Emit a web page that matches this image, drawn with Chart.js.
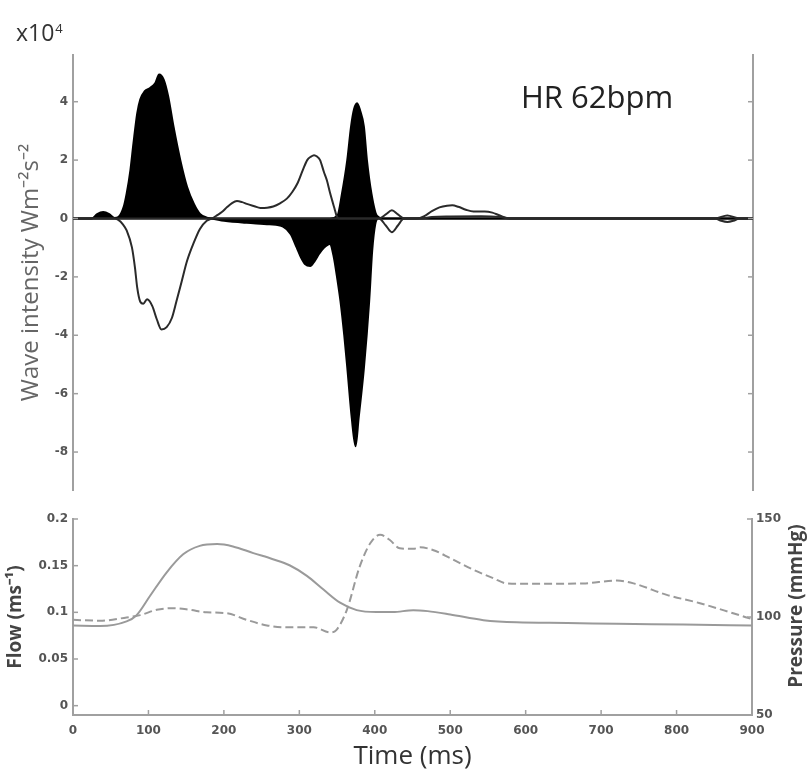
<!DOCTYPE html>
<html><head><meta charset="utf-8">
<script src="https://cdn.jsdelivr.net/npm/chart.js@4.4.1/dist/chart.umd.min.js"></script>
<style>
html,body{margin:0;padding:0;background:#fff;}
#wrap{position:relative;width:811px;height:774px;background:#fff;}
canvas{position:absolute;left:0;top:0;}
</style></head><body>
<div id="wrap"><canvas id="waveCanvas" width="811" height="774"></canvas><canvas id="flowCanvas" width="811" height="774"></canvas></div>
<script>
// ---------- Tick labels ----------
const waveTicks = [-8, -6, -4, -2, 0, 2, 4];
const timeTicks = [0, 100, 200, 300, 400, 500, 600, 700, 800, 900];
const flowTicks = [0, 0.05, 0.1, 0.15, 0.2];
const pressureTicks = [50, 100, 150];

// ---------- Wave intensity (x10^4 W m^-2 s^-2) ----------
// forward (filled, positive)
const fwdTime  = [0, 25, 32, 40, 48, 55, 60, 67, 71, 76, 80, 85, 89, 95, 102, 109, 114, 120, 126, 133, 142, 151, 160, 168, 177, 185, 340, 350, 356, 363, 368, 372, 376, 380, 385, 389, 395, 402, 410, 900];
const fwdValue = [0, 0, 0.15, 0.22, 0.15, 0.02, 0.05, 0.39, 0.85, 1.66, 2.57, 3.6, 4.07, 4.36, 4.47, 4.64, 4.93, 4.76, 4.18, 3.15, 2.0, 1.08, 0.5, 0.16, 0.03, 0, 0, 0.1, 0.85, 2.0, 3.15, 3.75, 3.95, 3.7, 3.15, 2.0, 0.85, 0.1, 0, 0];
// backward (filled, negative)
const bwdTime  = [0, 180, 200, 230, 260, 278, 288, 296, 302, 307, 314, 320, 326, 332, 340, 345, 350, 354, 359, 363, 369, 374, 378, 385, 392, 396, 400, 404, 900];
const bwdValue = [0, 0, -0.08, -0.15, -0.2, -0.28, -0.53, -0.99, -1.35, -1.56, -1.63, -1.45, -1.2, -1.0, -0.87, -1.3, -2.1, -2.83, -4.0, -5.1, -6.85, -7.8, -6.85, -5.13, -2.83, -1.1, -0.2, 0, 0];
// open trace A
const openATime  = [0, 55, 60, 66, 71, 78, 82, 85, 89, 93, 98, 105, 111, 117, 124, 131, 137, 144, 151, 160, 168, 177, 184, 190, 197, 204, 210, 217, 224, 230, 240, 248, 257, 265, 274, 283, 290, 297, 304, 310, 315, 319, 323, 327, 332, 336, 340, 343, 346, 349, 352, 405, 414, 422, 430, 438, 455, 465, 475, 485, 495, 502, 510, 520, 530, 545, 555, 565, 578, 850, 866, 882, 900];
const openAValue = [0, 0, -0.05, -0.2, -0.41, -0.99, -1.68, -2.37, -2.85, -2.92, -2.77, -3.0, -3.46, -3.8, -3.72, -3.4, -2.83, -2.14, -1.45, -0.82, -0.36, -0.08, 0, 0.1, 0.22, 0.39, 0.52, 0.6, 0.56, 0.5, 0.42, 0.36, 0.37, 0.41, 0.52, 0.68, 0.9, 1.2, 1.65, 2.0, 2.12, 2.17, 2.12, 2.0, 1.6, 1.31, 0.9, 0.62, 0.35, 0.08, 0, 0, 0.14, 0.28, 0.14, 0, 0, 0.08, 0.25, 0.38, 0.44, 0.45, 0.4, 0.3, 0.24, 0.24, 0.2, 0.1, 0, 0, 0.1, 0, 0];
// open trace B
const openBTime  = [0, 405, 414, 422, 430, 438, 460, 475, 500, 540, 565, 578, 850, 858, 866, 874, 882, 900];
const openBValue = [0, 0, -0.24, -0.47, -0.24, 0, 0, 0.05, 0.07, 0.08, 0.05, 0, 0, -0.08, -0.12, -0.08, 0, 0];

// ---------- Flow (m/s) and pressure (mmHg) ----------
const flowTime  = [0, 36, 71, 89, 111, 133, 155, 177, 204, 230, 257, 283, 319, 341, 349, 363, 380, 394, 407, 420, 433, 451, 460, 477, 500, 531, 557, 575, 610, 676, 721, 743, 787, 831, 875, 900];
const flowValue = [0.092, 0.091, 0.0945, 0.097, 0.1027, 0.1045, 0.1027, 0.100, 0.099, 0.092, 0.086, 0.084, 0.084, 0.0784, 0.081, 0.1027, 0.149, 0.174, 0.183, 0.1775, 0.1686, 0.168, 0.1697, 0.1668, 0.158, 0.1455, 0.1366, 0.131, 0.1305, 0.131, 0.134, 0.131, 0.1187, 0.1098, 0.099, 0.0927];
const pressureTime  = [0, 36, 71, 84, 102, 124, 146, 168, 191, 212, 239, 265, 287, 310, 332, 354, 376, 402, 424, 451, 470, 500, 544, 588, 655, 721, 809, 900];
const pressureValue = [95.6, 95.4, 97.8, 100.8, 110.7, 122.7, 132, 136.3, 137.2, 136, 132.6, 129.5, 126.4, 121, 114, 107.3, 103.5, 102.5, 102.5, 103.5, 103.0, 101.3, 98.4, 97.3, 97, 96.5, 96.2, 95.6];

// ---------- helpers ----------
const pairs = (xs, ys) => xs.map((x, i) => ({x: x, y: ys[i]}));
const axisGray = '#a0a0a0';
const tickFont = {family: 'DejaVu Sans', size: 12, weight: 'bold'};
const fixWidth = w => s => { s.width = w; };
const fixHeight = h => s => { s.height = h; };
const setTicks = vals => s => { s.ticks = vals.map(v => ({value: v})); };

const inwardTicks = {
  id: 'inwardTicks',
  afterDraw(chart, args, opts) {
    const ctx = chart.ctx;
    ctx.save();
    ctx.strokeStyle = axisGray;
    ctx.lineWidth = 1.5;
    (opts.ids || []).forEach(id => {
      const s = chart.scales[id];
      if (!s) return;
      const len = 5;
      s.ticks.forEach(t => {
        const p = s.getPixelForValue(t.value);
        ctx.beginPath();
        if (s.isHorizontal()) { ctx.moveTo(p, s.top); ctx.lineTo(p, s.top - len); }
        else if (s.position === 'left') { ctx.moveTo(s.right, p); ctx.lineTo(s.right + len, p); }
        else { ctx.moveTo(s.left, p); ctx.lineTo(s.left - len, p); }
        ctx.stroke();
      });
    });
    ctx.restore();
  }
};

const topText = {
  id: 'topText',
  afterDraw(chart) {
    const c = chart.ctx;
    c.save();
    c.fillStyle = '#333';
    c.textBaseline = 'alphabetic';
    c.textAlign = 'left';
    c.font = '23px "Open Sans"';
    c.fillText('x10', 16, 41);
    const w = c.measureText('x10').width;
    c.font = '13px "Open Sans"';
    c.fillText('4', 16 + w + 1, 33);
    c.font = '31px "Open Sans"';
    c.fillStyle = '#222';
    c.fillText('HR 62bpm', 521, 108);
    c.restore();
  }
};

const bottomText = {
  id: 'bottomText',
  afterDraw(chart) {
    const c = chart.ctx;
    c.save();
    c.translate(797, 606);
    c.rotate(-Math.PI / 2);
    c.textAlign = 'center';
    c.textBaseline = 'middle';
    c.font = 'bold 19px "Open Sans"';
    c.fillStyle = '#444';
    c.fillText('Pressure (mmHg)', 0, 0);
    c.restore();
  }
};

// ---------- Top chart: wave intensity ----------
new Chart(document.getElementById('waveCanvas'), {
  type: 'line',
  data: {
    datasets: [
      {label: 'open A', data: pairs(openATime, openAValue), borderColor: '#2a2a2a', borderWidth: 2, fill: false},
      {label: 'open B', data: pairs(openBTime, openBValue), borderColor: '#2a2a2a', borderWidth: 2, fill: false},
      {label: 'forward', data: pairs(fwdTime, fwdValue), borderColor: '#000', backgroundColor: '#000', borderWidth: 2, fill: 'origin'},
      {label: 'backward', data: pairs(bwdTime, bwdValue), borderColor: '#000', backgroundColor: '#000', borderWidth: 2, fill: 'origin'}
    ]
  },
  options: {
    responsive: false, animation: false, events: [],
    layout: {padding: {top: 55, bottom: 284, left: 0, right: 0}},
    elements: {point: {radius: 0}, line: {cubicInterpolationMode: 'monotone'}},
    plugins: {legend: {display: false}, tooltip: {enabled: false}, inwardTicks: {ids: ['y', 'yR']}},
    scales: {
      x: {type: 'linear', min: 0, max: 900, display: false},
      y: {
        position: 'left', min: -9.3, max: 5.6,
        afterFit: fixWidth(73), afterBuildTicks: setTicks(waveTicks),
        grid: {display: false, drawTicks: false},
        border: {display: true, color: axisGray, width: 2},
        ticks: {font: tickFont, color: '#555', padding: 5, callback: v => String(v)},
        title: {display: true, text: 'Wave intensity Wm⁻²s⁻²', font: {family: 'Open Sans', size: 24}, color: '#666', padding: {top: 17, bottom: 0}}
      },
      yR: {
        position: 'right', min: -9.3, max: 5.6,
        afterFit: fixWidth(58), afterBuildTicks: setTicks(waveTicks),
        grid: {display: false, drawTicks: false},
        border: {display: true, color: axisGray, width: 2},
        ticks: {display: false}
      }
    }
  },
  plugins: [inwardTicks, topText]
});

// ---------- Bottom chart: flow and pressure ----------
new Chart(document.getElementById('flowCanvas'), {
  type: 'line',
  data: {
    datasets: [
      {label: 'Pressure', data: pairs(pressureTime, pressureValue), yAxisID: 'yP', borderColor: '#9a9a9a', borderWidth: 2, fill: false},
      {label: 'Flow', data: pairs(flowTime, flowValue), yAxisID: 'y', borderColor: '#9a9a9a', borderWidth: 2, borderDash: [8, 4], fill: false}
    ]
  },
  options: {
    responsive: false, animation: false, events: [],
    layout: {padding: {top: 519, bottom: 0, left: 0, right: 0}},
    elements: {point: {radius: 0}, line: {cubicInterpolationMode: 'monotone'}},
    plugins: {legend: {display: false}, tooltip: {enabled: false}, inwardTicks: {ids: ['x', 'y', 'yP']}},
    scales: {
      x: {
        type: 'linear', min: 0, max: 900,
        afterFit: fixHeight(59), afterBuildTicks: setTicks(timeTicks),
        grid: {display: false, drawTicks: false},
        border: {display: true, color: axisGray, width: 2},
        ticks: {font: tickFont, color: '#555', padding: 9, maxRotation: 0, autoSkip: false, callback: v => String(v)},
        title: {display: true, text: 'Time (ms)', font: {family: 'Open Sans', size: 26}, color: '#333', padding: {top: 0, bottom: 2}}
      },
      y: {
        position: 'left', min: -0.01, max: 0.2,
        afterFit: fixWidth(73), afterBuildTicks: setTicks(flowTicks),
        grid: {display: false, drawTicks: false},
        border: {display: true, color: axisGray, width: 2},
        ticks: {font: tickFont, color: '#555', padding: 5, callback: v => String(v)},
        title: {display: true, text: 'Flow (ms⁻¹)', font: {family: 'Open Sans', size: 19, weight: 'bold'}, color: '#444', padding: {top: 4, bottom: 0}}
      },
      yP: {
        position: 'right', min: 50, max: 150,
        afterFit: fixWidth(59), afterBuildTicks: setTicks(pressureTicks),
        grid: {display: false, drawTicks: false},
        border: {display: true, color: axisGray, width: 2},
        ticks: {font: tickFont, color: '#555', padding: 4, callback: v => String(v)}
      }
    }
  },
  plugins: [inwardTicks, bottomText]
});
</script>
</body></html>
